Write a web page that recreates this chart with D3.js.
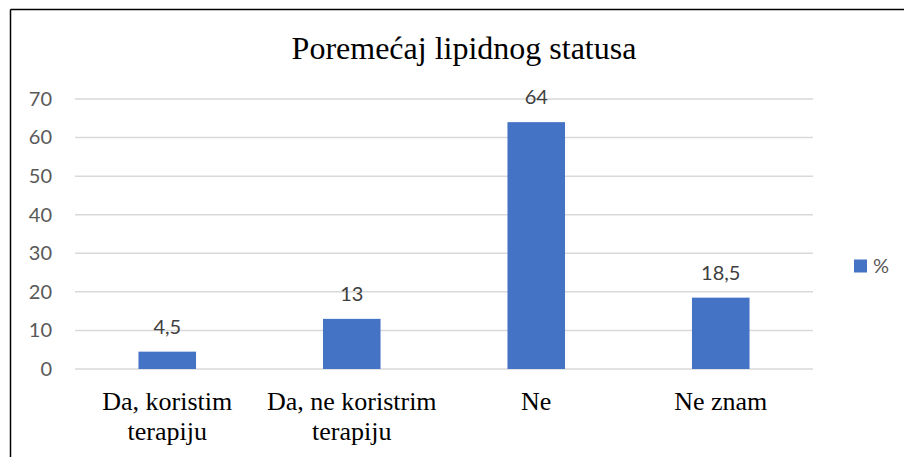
<!DOCTYPE html>
<html>
<head>
<meta charset="utf-8">
<script src="https://cdn.jsdelivr.net/npm/d3@7"></script>
<style>
  html, body { margin: 0; padding: 0; background: #fff; }
  svg { display: block; }
</style>
</head>
<body>
<script>
// Chart data
const categories = [["Da, koristim", "terapiju"], ["Da, ne koristrim", "terapiju"], ["Ne"], ["Ne znam"]];
const values = [4.5, 13, 64, 18.5];
const valueLabels = ["4,5", "13", "64", "18,5"];
const yTicks = [0, 10, 20, 30, 40, 50, 60, 70];
const seriesName = "%";
const title = "Poremećaj lipidnog statusa";

const SERIF = '"Liberation Serif", "Times New Roman", serif';
const SANS = 'Lato, "Open Sans", sans-serif';

const W = 904, H = 457;
const svg = d3.select("body").append("svg").attr("width", W).attr("height", H);

// frame (only the top and left edges fall inside the page)
svg.append("line").attr("x1", 10.5).attr("y1", 9.5).attr("x2", W).attr("y2", 9.5)
  .attr("stroke", "#000").attr("stroke-width", 1.5);
svg.append("line").attr("x1", 10.5).attr("y1", 9.5).attr("x2", 10.5).attr("y2", H)
  .attr("stroke", "#000").attr("stroke-width", 1.5);

const plot = { left: 75, right: 813, top: 99, bottom: 369 };

const x = d3.scaleBand().domain(d3.range(categories.length))
  .range([plot.left, plot.right]).paddingInner(0.688).paddingOuter(0.344);
const y = d3.scaleLinear().domain([0, 70]).range([plot.bottom, plot.top]);

// title
svg.append("text").attr("x", 464).attr("y", 59)
  .attr("text-anchor", "middle")
  .style("font-family", SERIF).style("font-size", "32px")
  .attr("fill", "#000").text(title);

// gridlines
svg.append("g").selectAll("line").data(yTicks).join("line")
  .attr("x1", plot.left).attr("x2", plot.right)
  .attr("y1", d => y(d)).attr("y2", d => y(d))
  .attr("stroke", "#d9d9d9").attr("stroke-width", 1.5);

// y axis labels
const yAxis = d3.axisLeft(y).tickValues(yTicks).tickSize(0).tickPadding(0);
const gy = svg.append("g").attr("transform", `translate(52,0)`).call(yAxis);
gy.select(".domain").remove();
gy.selectAll("text")
  .style("font-family", SANS).style("font-size", "20px")
  .attr("fill", "#595959");

// bars
svg.append("g").selectAll("rect").data(values).join("rect")
  .attr("x", (d, i) => x(i)).attr("width", x.bandwidth())
  .attr("y", d => y(d)).attr("height", d => y(0) - y(d))
  .attr("fill", "#4472C4");

// value labels
svg.append("g").selectAll("text").data(values).join("text")
  .attr("x", (d, i) => x(i) + x.bandwidth() / 2)
  .attr("y", d => y(d) - 18)
  .attr("text-anchor", "middle")
  .style("font-family", SANS).style("font-size", "20px")
  .attr("fill", "#404040")
  .text((d, i) => valueLabels[i]);

// category labels
const gx = svg.append("g");
categories.forEach((lines, i) => {
  const cx = x(i) + x.bandwidth() / 2;
  const t = gx.append("text")
    .attr("x", cx).attr("y", 410)
    .attr("text-anchor", "middle")
    .style("font-family", SERIF).style("font-size", "26px")
    .attr("fill", "#000");
  lines.forEach((ln, j) => {
    t.append("tspan").attr("x", cx)
      .attr("dy", j === 0 ? 0 : 30).text(ln);
  });
});

// legend
svg.append("rect").attr("x", 854).attr("y", 259.5).attr("width", 13).attr("height", 13)
  .attr("fill", "#4472C4");
svg.append("text").attr("x", 873).attr("y", 273)
  .style("font-family", SANS).style("font-size", "20px")
  .attr("fill", "#595959").text(seriesName);
</script>
</body>
</html>
